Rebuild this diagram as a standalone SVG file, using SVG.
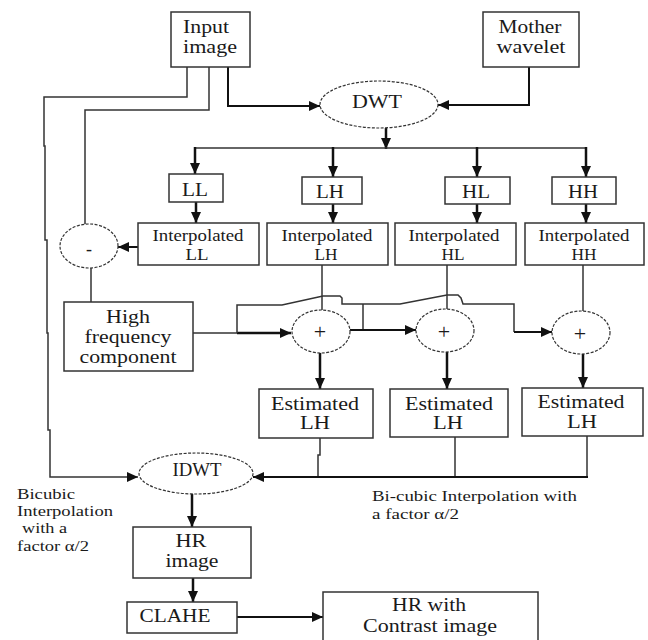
<svg xmlns="http://www.w3.org/2000/svg" width="648" height="640" viewBox="0 0 648 640" font-family="'Liberation Serif', 'Times New Roman', 'DejaVu Serif', serif">
<defs>
<style>
.box{fill:#fff;stroke:#333;stroke-width:1.5}
.ell{fill:#fff;stroke:#333;stroke-width:1.2;stroke-dasharray:3 1.5}
.ln{fill:none;stroke:#333;stroke-width:1.5}
.ar{fill:none;stroke:#111;stroke-width:2.5}
.ar2{fill:none;stroke:#111;stroke-width:2}
text{font-family:'Liberation Serif','Times New Roman','DejaVu Serif',serif;fill:#1a1a1a;text-anchor:middle}
.t{font-size:18px}
.ti{font-size:16px}
.tl{font-size:15px;text-anchor:start}
.op{font-size:22px}
</style>
<marker id="ah" markerUnits="userSpaceOnUse" markerWidth="12" markerHeight="10" refX="11" refY="5" orient="auto">
<path d="M0,0 L11,5 L0,10 Z" fill="#111"/>
</marker>
</defs>

<g id="connectors">
<polyline class="ln" points="187,67 187,97 44,97 44,146 45,146 45,240 47,240 47,333 48,333 48,430 50,430 50,477 138,477" marker-end="url(#ah)"/>
<polyline class="ln" points="209,67 209,110 85,110 85,224"/>
<polyline class="ar2" points="228,67 228,106 320,106" marker-end="url(#ah)"/>
<polyline class="ar2" points="529,67 529,105 438,105" marker-end="url(#ah)"/>
<line class="ar" x1="386" y1="128" x2="386" y2="149" marker-end="url(#ah)"/>
<line class="ln" x1="195" y1="148" x2="587" y2="148"/>
<line class="ar" x1="195" y1="147" x2="195" y2="174" marker-end="url(#ah)"/>
<line class="ar" x1="333" y1="147" x2="333" y2="177" marker-end="url(#ah)"/>
<line class="ar" x1="477" y1="147" x2="477" y2="177" marker-end="url(#ah)"/>
<line class="ar" x1="586" y1="147" x2="586" y2="177" marker-end="url(#ah)"/>
<line class="ar" x1="196" y1="202" x2="196" y2="223" marker-end="url(#ah)"/>
<line class="ar" x1="333" y1="204" x2="333" y2="223" marker-end="url(#ah)"/>
<line class="ar" x1="477" y1="204" x2="477" y2="223" marker-end="url(#ah)"/>
<line class="ar" x1="586" y1="204" x2="586" y2="223" marker-end="url(#ah)"/>
<line class="ar2" x1="138" y1="247" x2="118" y2="247" marker-end="url(#ah)"/>
<line class="ln" x1="91" y1="268" x2="91" y2="302"/>
<line class="ln" x1="193" y1="333" x2="237" y2="333"/>
<line class="ar" x1="237" y1="333" x2="291" y2="333" marker-end="url(#ah)"/>
<polyline class="ln" points="237,333 237,305 282,305 323,296 340,296 342,298 342,304 400,304 447,295 458,295 461,298 463,304 514,304 514,332"/>
<line class="ar2" x1="514" y1="332" x2="552" y2="332" marker-end="url(#ah)"/>
<line class="ln" x1="363" y1="304" x2="363" y2="330"/>
<line class="ar2" x1="350" y1="330" x2="416" y2="330" marker-end="url(#ah)"/>
<line class="ln" x1="322" y1="265" x2="322" y2="310"/>
<line class="ln" x1="447" y1="265" x2="447" y2="309"/>
<line class="ln" x1="583" y1="265" x2="583" y2="311"/>
<line class="ar" x1="320" y1="353" x2="320" y2="389" marker-end="url(#ah)"/>
<line class="ar" x1="447" y1="352" x2="447" y2="389" marker-end="url(#ah)"/>
<line class="ar" x1="583" y1="354" x2="583" y2="388" marker-end="url(#ah)"/>
<polyline class="ln" points="320,438 320,455 318,455 318,477"/>
<line class="ln" x1="455" y1="437" x2="455" y2="477"/>
<line class="ln" x1="587" y1="436" x2="587" y2="477"/>
<line class="ar2" x1="588" y1="477" x2="253" y2="477" marker-end="url(#ah)"/>
<line class="ar" x1="192" y1="494" x2="192" y2="527" marker-end="url(#ah)"/>
<line class="ar" x1="193" y1="578" x2="193" y2="602" marker-end="url(#ah)"/>
<line class="ar2" x1="237" y1="617" x2="323" y2="617" marker-end="url(#ah)"/>
</g>

<g id="input">
<rect class="box" x="171" y="12" width="79" height="55"/>
<text class="t" x="206" y="33" textLength="46" lengthAdjust="spacingAndGlyphs">Input</text>
<text class="t" x="210" y="53" textLength="54" lengthAdjust="spacingAndGlyphs">image</text>
</g>
<g id="mother">
<rect class="box" x="483" y="12" width="96" height="55"/>
<text class="t" x="530" y="33" textLength="63" lengthAdjust="spacingAndGlyphs">Mother</text>
<text class="t" x="531" y="53" textLength="69" lengthAdjust="spacingAndGlyphs">wavelet</text>
</g>
<g id="dwt">
<ellipse class="ell" cx="379" cy="104.5" rx="59" ry="23.5"/>
<text class="t" x="377" y="108" textLength="50" lengthAdjust="spacingAndGlyphs">DWT</text>
</g>
<g id="ll">
<rect class="box" x="169" y="174" width="54" height="28"/>
<text class="t" x="195" y="196" textLength="26" lengthAdjust="spacingAndGlyphs">LL</text>
</g>
<g id="lh">
<rect class="box" x="302" y="177" width="60" height="27"/>
<text class="t" x="330" y="198" textLength="28" lengthAdjust="spacingAndGlyphs">LH</text>
</g>
<g id="hl">
<rect class="box" x="445" y="177" width="65" height="27"/>
<text class="t" x="476" y="198" textLength="28" lengthAdjust="spacingAndGlyphs">HL</text>
</g>
<g id="hh">
<rect class="box" x="552" y="177" width="64" height="27"/>
<text class="t" x="583" y="198" textLength="30" lengthAdjust="spacingAndGlyphs">HH</text>
</g>
<g id="ill">
<rect class="box" x="138" y="223" width="121" height="42"/>
<text class="ti" x="198" y="241" textLength="91" lengthAdjust="spacingAndGlyphs">Interpolated</text>
<text class="ti" x="197" y="260" textLength="23" lengthAdjust="spacingAndGlyphs">LL</text>
</g>
<g id="ilh">
<rect class="box" x="267" y="223" width="121" height="42"/>
<text class="ti" x="327" y="241" textLength="91" lengthAdjust="spacingAndGlyphs">Interpolated</text>
<text class="ti" x="326" y="260" textLength="23" lengthAdjust="spacingAndGlyphs">LH</text>
</g>
<g id="ihl">
<rect class="box" x="395" y="223" width="121" height="42"/>
<text class="ti" x="454" y="241" textLength="91" lengthAdjust="spacingAndGlyphs">Interpolated</text>
<text class="ti" x="453" y="260" textLength="23" lengthAdjust="spacingAndGlyphs">HL</text>
</g>
<g id="ihh">
<rect class="box" x="525" y="223" width="119" height="42"/>
<text class="ti" x="584" y="241" textLength="91" lengthAdjust="spacingAndGlyphs">Interpolated</text>
<text class="ti" x="584" y="260" textLength="25" lengthAdjust="spacingAndGlyphs">HH</text>
</g>
<g id="minus">
<ellipse class="ell" cx="89" cy="246" rx="29" ry="22"/>
<text class="t" x="89" y="255">-</text>
</g>
<g id="hf">
<rect class="box" x="64" y="302" width="129" height="69"/>
<text class="t" x="128" y="323" textLength="44" lengthAdjust="spacingAndGlyphs">High</text>
<text class="t" x="128" y="343" textLength="87" lengthAdjust="spacingAndGlyphs">frequency</text>
<text class="t" x="128" y="363" textLength="97" lengthAdjust="spacingAndGlyphs">component</text>
</g>
<g id="plus1">
<ellipse class="ell" cx="321" cy="331.5" rx="29" ry="21.5"/>
<text class="op" x="320" y="339">+</text>
</g>
<g id="plus2">
<ellipse class="ell" cx="445" cy="330.5" rx="29" ry="21.5"/>
<text class="op" x="444" y="339">+</text>
</g>
<g id="plus3">
<ellipse class="ell" cx="581" cy="332.5" rx="29" ry="21.5"/>
<text class="op" x="580" y="341">+</text>
</g>
<g id="est1">
<rect class="box" x="259" y="389" width="114" height="49"/>
<text class="t" x="315" y="410" textLength="88" lengthAdjust="spacingAndGlyphs">Estimated</text>
<text class="t" x="315" y="429" textLength="30" lengthAdjust="spacingAndGlyphs">LH</text>
</g>
<g id="est2">
<rect class="box" x="390" y="389" width="118" height="48"/>
<text class="t" x="449" y="410" textLength="88" lengthAdjust="spacingAndGlyphs">Estimated</text>
<text class="t" x="448" y="429" textLength="30" lengthAdjust="spacingAndGlyphs">LH</text>
</g>
<g id="est3">
<rect class="box" x="522" y="388" width="121" height="48"/>
<text class="t" x="581" y="408" textLength="87" lengthAdjust="spacingAndGlyphs">Estimated</text>
<text class="t" x="582" y="428" textLength="30" lengthAdjust="spacingAndGlyphs">LH</text>
</g>
<g id="idwt">
<ellipse class="ell" cx="196" cy="473.5" rx="57" ry="20.5"/>
<text class="t" x="197" y="476" textLength="49" lengthAdjust="spacingAndGlyphs">IDWT</text>
</g>
<g id="hr">
<rect class="box" x="133" y="527" width="118" height="51"/>
<text class="t" x="191" y="547" textLength="31" lengthAdjust="spacingAndGlyphs">HR</text>
<text class="t" x="192" y="567" textLength="53" lengthAdjust="spacingAndGlyphs">image</text>
</g>
<g id="clahe">
<rect class="box" x="127" y="602" width="110" height="31"/>
<text class="t" x="175" y="622" textLength="71" lengthAdjust="spacingAndGlyphs">CLAHE</text>
</g>
<g id="hrc">
<rect class="box" x="323" y="592" width="215" height="52"/>
<text class="t" x="429" y="611" textLength="74" lengthAdjust="spacingAndGlyphs">HR with</text>
<text class="t" x="430" y="632" textLength="134" lengthAdjust="spacingAndGlyphs">Contrast image</text>
</g>
<g id="labels">
<text class="tl" x="17" y="499" textLength="58" lengthAdjust="spacingAndGlyphs">Bicubic</text>
<text class="tl" x="17" y="516" textLength="96" lengthAdjust="spacingAndGlyphs">Interpolation</text>
<text class="tl" x="22" y="533" textLength="45" lengthAdjust="spacingAndGlyphs">with a</text>
<text class="tl" x="17" y="551" textLength="72" lengthAdjust="spacingAndGlyphs">factor α/2</text>
<text class="tl" x="372" y="501" textLength="205" lengthAdjust="spacingAndGlyphs">Bi-cubic Interpolation with</text>
<text class="tl" x="372" y="519" textLength="87" lengthAdjust="spacingAndGlyphs">a factor α/2</text>
</g>
</svg>
